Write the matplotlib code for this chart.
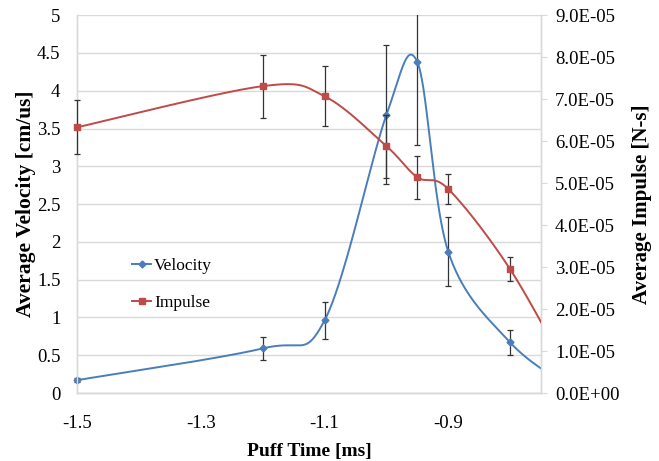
import numpy as np
import matplotlib.pyplot as plt
from matplotlib.patches import Rectangle
from matplotlib.ticker import FuncFormatter, MultipleLocator

# data (last point at -0.7 lies past the axis edge)
puff_time = [-1.5, -1.2, -1.1, -1.0, -0.95, -0.9, -0.8, -0.7]
velocity = [0.17, 0.59, 0.96, 3.68, 4.38, 1.87, 0.67, 0.06]
velocity_err = [0.03, 0.15, 0.24, 0.92, 1.10, 0.46, 0.17, 0.0]
impulse = [6.33e-5, 7.31e-5, 7.07e-5, 5.88e-5, 5.14e-5, 4.86e-5, 2.95e-5, 0.33e-5]
impulse_err = [0.64e-5, 0.75e-5, 0.71e-5, 0.75e-5, 0.51e-5, 0.36e-5, 0.29e-5, 0.0]

BLUE = "#4A7EBB"
RED = "#BE4B48"
GRID = "#D9D9D9"
SERIF = ["Liberation Serif", "DejaVu Serif"]


def smooth(xs, ys, n=60):
    # Excel-like smoothing: Catmull-Rom segments as cubic Bezier
    px = np.array([xs[0]] + list(xs) + [xs[-1]], dtype=float)
    py = np.array([ys[0]] + list(ys) + [ys[-1]], dtype=float)
    t = np.linspace(0, 1, n)[:, None]
    out_x, out_y = [], []
    for i in range(1, len(px) - 2):
        p0 = np.array([px[i - 1], py[i - 1]])
        p1 = np.array([px[i], py[i]])
        p2 = np.array([px[i + 1], py[i + 1]])
        p3 = np.array([px[i + 2], py[i + 2]])
        b1 = p1 + (p2 - p0) / 6
        b2 = p2 - (p3 - p1) / 6
        seg = ((1 - t) ** 3) * p1 + 3 * ((1 - t) ** 2) * t * b1 + 3 * (1 - t) * t ** 2 * b2 + t ** 3 * p2
        out_x.extend(seg[:, 0])
        out_y.extend(seg[:, 1])
    return np.array(out_x), np.array(out_y)


def clip_y_only(a, container):
    # keep error bars inside the plot vertically, but let them spill a little sideways
    box = Rectangle((-0.05, 0), 1.02, 1, transform=a.transAxes)
    for art in list(container.lines[1]) + list(container.lines[2]):
        art.set_clip_on(True)
        art.set_clip_path(box)


plt.rcParams["font.family"] = SERIF
fig = plt.figure(figsize=(6.59, 4.61), dpi=100)
ax = fig.add_axes([0.117, 0.1475, 0.704, 0.8195])
ax2 = ax.twinx()

ax.set_xlim(-1.5, -0.75)
ax.set_ylim(0, 5)
ax2.set_ylim(0, 9e-5)

ax.yaxis.set_major_locator(MultipleLocator(0.5))
ax2.yaxis.set_major_locator(MultipleLocator(1e-5))
ax.set_xticks([-1.5, -1.3, -1.1, -0.9])
ax.xaxis.set_major_formatter(FuncFormatter(lambda v, p: f"{v:.1f}"))
ax.yaxis.set_major_formatter(FuncFormatter(lambda v, p: f"{v:g}"))
ax2.yaxis.set_major_formatter(FuncFormatter(lambda v, p: f"{v:.1E}"))

ax.grid(axis="y", color=GRID, linewidth=1.0)
ax.set_axisbelow(True)
for a in (ax, ax2):
    a.spines["top"].set_visible(False)
    for side in ("left", "right", "bottom"):
        a.spines[side].set_color(GRID)
        a.spines[side].set_linewidth(1.0)

ax.tick_params(axis="y", length=0, labelsize=13.5, pad=12)
ax.tick_params(axis="x", length=0, labelsize=13.5, pad=16)
ax2.tick_params(axis="y", length=4, color=GRID, labelsize=13.5, pad=6)

# velocity
sx, sy = smooth(puff_time, velocity)
ax.plot(sx, sy, color=BLUE, linewidth=1.4, zorder=3)
eb = ax.errorbar(puff_time, velocity, yerr=velocity_err, fmt="none", ecolor="#333333",
                 elinewidth=0.9, capsize=2.5, capthick=0.9, zorder=4)
clip_y_only(ax, eb)
ax.plot(puff_time[:-1], velocity[:-1], linestyle="none", marker="D", markersize=3.5,
        color=BLUE, zorder=5, clip_on=False)

# impulse
ix, iy = smooth(puff_time, impulse)
ax2.plot(ix, iy, color=RED, linewidth=1.4, zorder=3)
eb2 = ax2.errorbar(puff_time, impulse, yerr=impulse_err, fmt="none", ecolor="#333333",
                   elinewidth=0.9, capsize=2.5, capthick=0.9, zorder=4)
clip_y_only(ax2, eb2)
ax2.plot(puff_time[:-1], impulse[:-1], linestyle="none", marker="s", markersize=5,
         color=RED, zorder=5, clip_on=False)

# legend handles
h1, = ax.plot([], [], color=BLUE, linewidth=1.4, marker="D", markersize=3.5)
h2, = ax.plot([], [], color=RED, linewidth=1.4, marker="s", markersize=5)
ax.legend([h1, h2], ["Velocity", "Impulse"], loc="upper left", bbox_to_anchor=(0.085, 0.4),
          frameon=False, fontsize=12.5, handlelength=1.1, handletextpad=0.15, labelspacing=1.2)

ax.set_xlabel("Puff Time [ms]", fontsize=14, fontweight="bold", labelpad=8)
ax.set_ylabel("Average Velocity [cm/us]", fontsize=15.5, fontweight="bold", labelpad=0.5)
ax2.set_ylabel("Average Impulse [N-s]", fontsize=15, fontweight="bold", labelpad=9)

fig.savefig("out.png", dpi=100)
